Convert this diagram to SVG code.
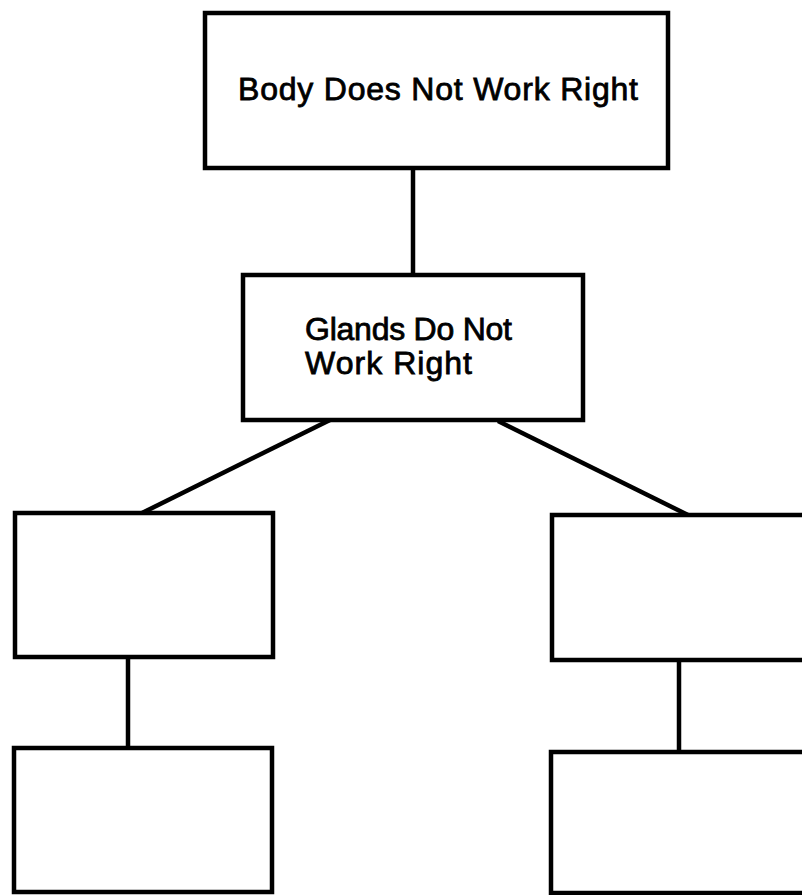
<svg xmlns="http://www.w3.org/2000/svg" width="802" height="895" viewBox="0 0 802 895">
<style>
.box{fill:#fff;stroke:#000;stroke-width:4.5}
.ln{stroke:#000;stroke-width:4.5;fill:none}
.t{font-family:"Liberation Sans",Arial,sans-serif;font-size:32px;fill:#000;stroke:#000;stroke-width:0.8}
</style>
<rect width="802" height="895" fill="#fff"/>
<g id="connectors">
<line class="ln" x1="413" y1="168" x2="413" y2="275"/>
<line class="ln" x1="330" y1="420" x2="142" y2="513"/>
<line class="ln" x1="498" y1="421" x2="688" y2="515"/>
<line class="ln" x1="128" y1="657" x2="128" y2="748"/>
<line class="ln" x1="679" y1="660" x2="679" y2="752"/>
</g>
<g id="n_body">
<rect class="box" x="205" y="13" width="463" height="155"/>
<text class="t" x="238" y="100" textLength="400" lengthAdjust="spacing">Body Does Not Work Right</text>
</g>
<g id="n_glands">
<rect class="box" x="243" y="275" width="340" height="145"/>
<text class="t" x="305" y="340" textLength="207" lengthAdjust="spacing">Glands Do Not</text>
<text class="t" x="305" y="374" textLength="167" lengthAdjust="spacing">Work Right</text>
</g>
<g id="n_left1">
<rect class="box" x="15" y="513" width="258" height="144"/>
</g>
<g id="n_left2">
<rect class="box" x="14" y="748" width="258" height="144"/>
</g>
<g id="n_right1">
<rect class="box" x="552" y="515" width="280" height="145"/>
</g>
<g id="n_right2">
<rect class="box" x="551" y="752" width="280" height="141"/>
</g>
</svg>
